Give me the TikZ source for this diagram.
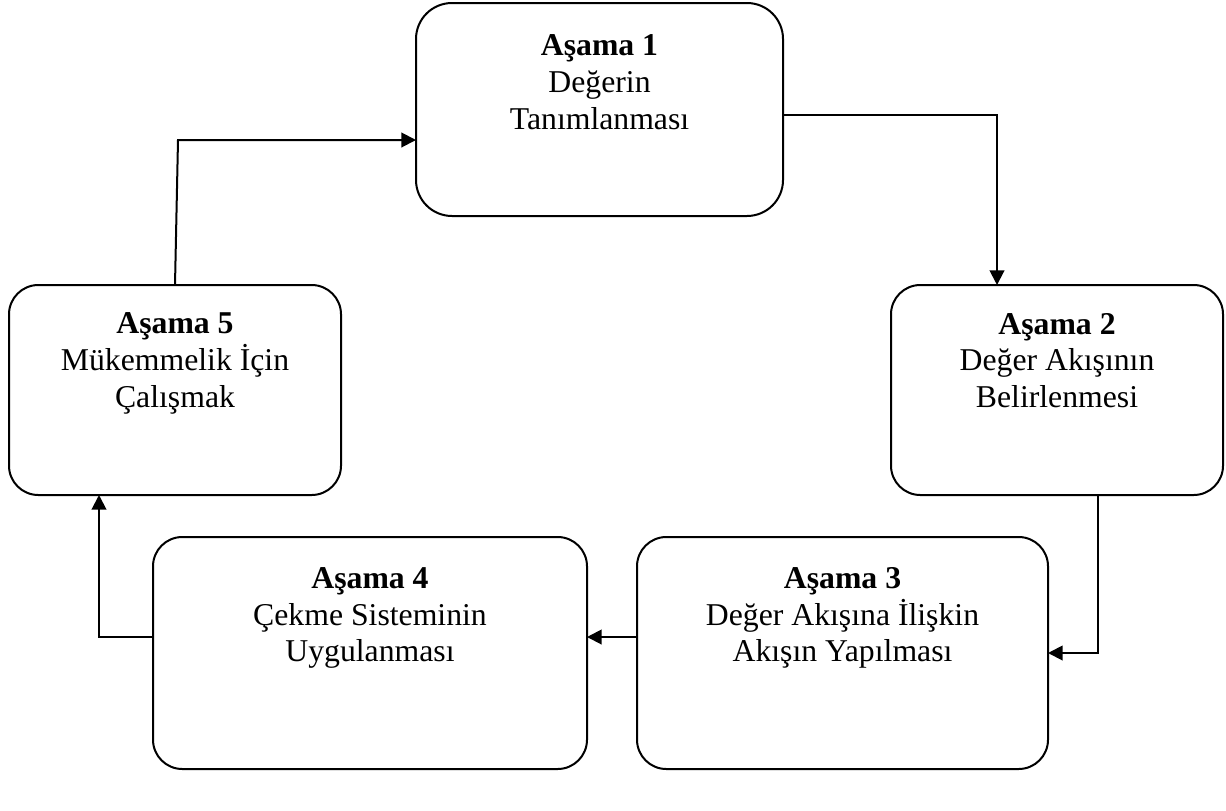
\documentclass[tikz,border=0pt]{standalone}
\usepackage{fontspec}
\setmainfont{Liberation Serif}
\usetikzlibrary{positioning,arrows.meta}

\tikzset{every picture/.style={line width=1.5pt}}
\tikzset{
  stage/.style={draw, rounded corners=22pt, inner sep=0pt, outer sep=0pt},
  stagetext/.style={align=center, inner sep=0pt, outer sep=0pt, font=\fontsize{23.8}{27.4}\selectfont},
  flow/.style={-{Triangle[length=11pt,width=11pt]}, line width=1.5pt}
}

\begin{document}
\begin{tikzpicture}[x=0.75pt,y=0.75pt,yscale=-1,xscale=1]
\useasboundingbox (0,0) rectangle (1226,810);

%Shape: Rounded Rect [stage 1]
\node[stage, rounded corners=27pt, minimum width=275.25pt, minimum height=159.75pt] (s1) at (599.5,109.5) {};
%Shape: Rounded Rect [stage 2]
\node[stage, minimum width=249pt, minimum height=157.5pt] (s2) at (1057,390) {};
%Shape: Rounded Rect [stage 3]
\node[stage, minimum width=308.25pt, minimum height=174pt] (s3) at (842.5,653) {};
%Shape: Rounded Rect [stage 4]
\node[stage, minimum width=325.5pt, minimum height=174pt] (s4) at (370,653) {};
%Shape: Rounded Rect [stage 5]
\node[stage, minimum width=249pt, minimum height=157.5pt] (s5) at (175,390) {};

% Text Node
\node[stagetext, below=24pt of s1.north] (t1) {\textbf{Aşama 1}\\Değerin\\Tanımlanması};
% Text Node
\node[stagetext, below=21pt of s2.north] (t2) {\textbf{Aşama 2}\\Değer Akışının\\Belirlenmesi};
% Text Node
\node[stagetext, below=23pt of s3.north] (t3) {\textbf{Aşama 3}\\Değer Akışına İlişkin\\Akışın Yapılması};
% Text Node
\node[stagetext, below=23pt of s4.north] (t4) {\textbf{Aşama 4}\\Çekme Sisteminin\\Uygulanması};
% Text Node
\node[stagetext, below=21pt of s5.north] (t5) {\textbf{Aşama 5}\\Mükemmelik İçin\\Çalışmak};

%Connector bends
\coordinate (c12) at (997,115);
\coordinate (c23) at (1098,653);
\coordinate (c34) at (612,637);
\coordinate (c45) at (99,637);
\coordinate (c51) at (178,140);

%Straight Lines [flow]
\draw[flow] (s1.east |- c12) -- (c12) -- (c12 |- s2.north);
\draw[flow] (c23 |- s2.south) -- (c23) -- (c23 -| s3.east);
\draw[flow] (c34 -| s3.west) -- (c34 -| s4.east);
\draw[flow] (c45 -| s4.west) -- (c45) -- (c45 |- s5.south);
\draw[flow] (s5.north) -- (c51) -- (c51 -| s1.west);

\end{tikzpicture}
\end{document}
